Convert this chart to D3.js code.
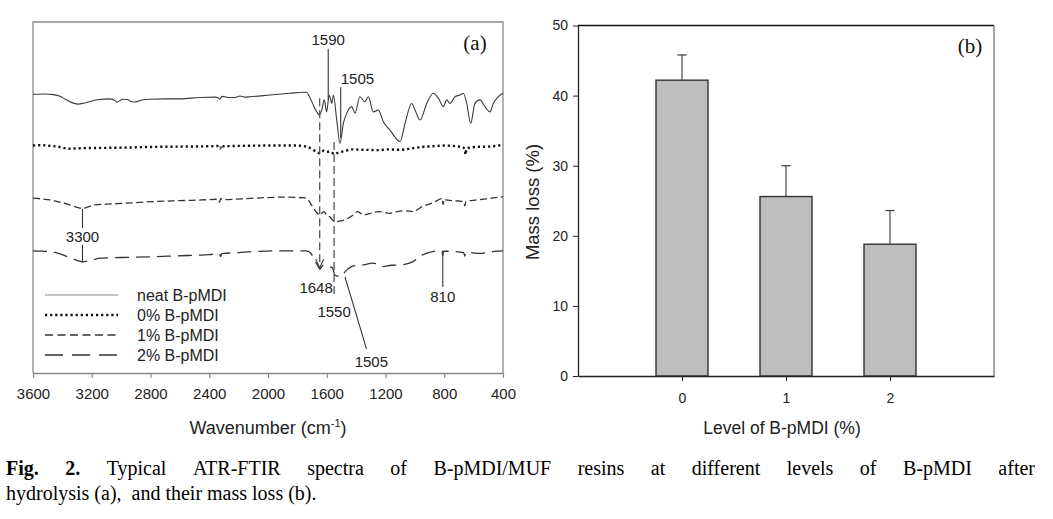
<!DOCTYPE html>
<html><head><meta charset="utf-8">
<script src="https://cdn.jsdelivr.net/npm/d3@7"></script>
<style>body{margin:0;background:#fff;} svg{display:block;}</style>
</head><body>
<svg id="c" width="1053" height="519"></svg>
<script>
// ---------- Panel (a) data ----------
const wavenumberTicks = [3600, 3200, 2800, 2400, 2000, 1600, 1200, 800, 400];
const neatSpectrum = [[3600,79.4],[3520,79.5],[3460,79.3],[3420,78.9],[3380,78.0],[3340,77.1],[3294,76.6],[3250,76.9],[3200,77.5],[3150,77.9],[3076,78.1],[3040,77.6],[3028,77.1],[3010,77.6],[2990,78.0],[2960,77.9],[2925,77.3],[2906,77.2],[2880,77.5],[2858,77.8],[2803,78.0],[2700,78.1],[2599,78.1],[2463,78.5],[2360,78.6],[2340,78.4],[2327,78.0],[2313,78.8],[2260,78.5],[2225,78.5],[2191,78.9],[2157,78.6],[2123,78.7],[1986,79.2],[1850,79.7],[1760,80.0],[1737,80.0],[1715,78.5],[1692,76.4],[1665,74.2],[1651,73.5],[1634,74.9],[1617,77.8],[1601,74.4],[1583,79.2],[1566,76.8],[1555,79.2],[1532,72.1],[1510,65.4],[1487,71.1],[1464,74.0],[1430,75.9],[1408,74.0],[1374,78.7],[1340,77.3],[1317,78.7],[1283,74.4],[1249,74.9],[1215,71.6],[1169,69.2],[1101,65.9],[1067,71.1],[1022,76.8],[999,74.9],[965,72.1],[919,76.8],[875,79.7],[840,78.3],[806,75.9],[783,77.8],[761,76.8],[727,78.7],[693,79.2],[670,79.7],[647,76.8],[620,71.1],[591,76.8],[557,77.8],[523,75.9],[489,74.4],[466,76.8],[432,78.7],[400,79.7]];
const b0Spectrum = [[3600,64.8],[3540,64.9],[3480,64.7],[3420,64.4],[3360,63.9],[3300,64.0],[3200,64.1],[3000,64.2],[2800,64.4],[2600,64.5],[2400,64.6],[2335,64.7],[2325,64.0],[2318,64.9],[2310,64.6],[2200,64.7],[2000,64.8],[1800,64.8],[1740,64.5],[1700,63.8],[1670,63.0],[1648,62.6],[1620,63.3],[1600,63.0],[1575,63.1],[1550,62.4],[1520,62.8],[1480,63.2],[1430,63.7],[1350,63.6],[1250,63.5],[1180,63.7],[1100,63.6],[1020,64.0],[950,64.4],[880,64.6],[800,64.8],[740,64.7],[700,64.5],[670,64.2],[660,63.5],[655,62.2],[650,63.6],[640,64.1],[580,64.4],[500,64.5],[450,64.7],[400,65.0]];
const b1Spectrum = [[3600,49.8],[3540,49.6],[3480,49.3],[3420,48.7],[3350,47.9],[3300,47.2],[3265,46.9],[3220,47.4],[3180,47.9],[3100,48.1],[3000,48.3],[2800,48.8],[2600,49.1],[2450,49.3],[2340,49.5],[2330,48.6],[2322,49.7],[2310,49.4],[2100,49.8],[1900,50.1],[1740,49.9],[1720,49.0],[1700,47.6],[1670,45.8],[1648,45.0],[1620,46.0],[1600,45.0],[1580,44.5],[1545,43.1],[1510,43.3],[1480,43.6],[1420,45.0],[1390,46.0],[1370,45.5],[1355,45.0],[1300,45.5],[1250,46.0],[1170,45.5],[1120,46.0],[1060,46.2],[1010,46.0],[950,47.4],[890,48.3],[830,49.5],[815,49.8],[808,48.0],[800,49.6],[790,49.3],[740,49.1],[700,49.0],[668,48.8],[660,47.6],[652,48.9],[580,49.3],[480,49.8],[400,50.2]];
const b2Spectrum = [[3600,34.8],[3540,34.7],[3480,34.6],[3420,34.0],[3375,33.3],[3320,32.4],[3265,31.7],[3200,32.2],[3140,32.7],[3000,32.9],[2800,33.1],[2600,33.4],[2450,33.6],[2330,33.9],[2322,33.2],[2315,34.0],[2200,34.3],[2100,34.6],[1900,34.8],[1740,34.8],[1710,34.2],[1690,32.8],[1660,30.5],[1648,29.6],[1635,30.2],[1620,30.8],[1580,30.3],[1560,29.9],[1545,27.9],[1505,27.5],[1470,29.1],[1420,30.5],[1350,30.8],[1290,31.3],[1260,31.1],[1220,30.3],[1160,30.7],[1100,30.8],[1020,31.6],[950,33.6],[880,34.6],[815,34.8],[810,33.5],[805,34.7],[720,34.6],[668,34.3],[660,33.3],[652,34.4],[560,34.1],[470,34.6],[400,34.8]];
const seriesNames = ["neat B-pMDI", "0% B-pMDI", "1% B-pMDI", "2% B-pMDI"];

// ---------- Panel (b) data ----------
const levels = [0, 1, 2];
const massLoss = [42.2, 25.6, 18.8];
const massLossErr = [3.6, 4.4, 4.8];
const massTicks = [0, 10, 20, 30, 40, 50];

// ---------- Caption ----------
const captionLine1 = [["Fig.", true], ["2.", true], ["Typical"], ["ATR-FTIR"], ["spectra"], ["of"], ["B-pMDI/MUF"], ["resins"], ["at"], ["different"], ["levels"], ["of"], ["B-pMDI"], ["after"]];
const captionLine2 = "hydrolysis (a),  and their mass loss (b).";

// ---------- Drawing ----------
const svg = d3.select("#c");
const SANS = "'Liberation Sans', Arial, sans-serif";
const SERIF = "'Liberation Serif', 'Times New Roman', serif";

// Panel (a)
const xA = d3.scaleLinear().domain([3600, 400]).range([33, 503]);
const yA = d3.scaleLinear().domain([0, 100]).range([373, 22]);
const gA = svg.append("g");

gA.append("path").attr("d", `M${xA(3600)},${yA(0)}V${yA(100)}H${xA(400)}V${yA(0)}`)
  .attr("fill", "none").attr("stroke", "#8a8a8a").attr("stroke-width", 1.3);

const axA = gA.append("g").attr("transform", `translate(0,${yA(0)})`)
  .call(d3.axisBottom(xA).tickValues(wavenumberTicks).tickSize(5).tickSizeOuter(0).tickFormat(d3.format("d")));
axA.select(".domain").attr("stroke", "#8a8a8a").attr("stroke-width", 1.3);
axA.selectAll(".tick line").attr("stroke", "#8a8a8a").attr("stroke-width", 1.2);
axA.selectAll(".tick text").attr("y", 15).style("font-family", SANS).style("font-size", "15px").attr("fill", "#222");

const xl = gA.append("text").attr("x", 268).attr("y", 434).attr("text-anchor", "middle")
  .style("font-family", SANS).style("font-size", "18px").attr("fill", "#222");
xl.append("tspan").text("Wavenumber (cm");
xl.append("tspan").attr("dy", -7).style("font-size", "11px").text("-1");
xl.append("tspan").attr("dy", 7).text(")");

const line = d3.line().x(d => xA(d[0])).y(d => yA(d[1])).curve(d3.curveMonotoneX);
const styles = [
  {data: neatSpectrum, stroke: "#3a3a3a", w: 1.1, dash: null},
  {data: b0Spectrum, stroke: "#111", w: 2.4, dash: "2.2,2.9"},
  {data: b1Spectrum, stroke: "#333", w: 1.3, dash: "7,3.5"},
  {data: b2Spectrum, stroke: "#333", w: 1.3, dash: "14,7"}
];
styles.forEach(s => {
  gA.append("path").attr("d", line(s.data)).attr("fill", "none")
    .attr("stroke", s.stroke).attr("stroke-width", s.w)
    .attr("stroke-dasharray", s.dash);
});

// annotations
function seg(w1, v1, w2, v2, dash) {
  gA.append("line").attr("x1", xA(w1)).attr("y1", yA(v1)).attr("x2", xA(w2)).attr("y2", yA(v2))
    .attr("stroke", dash ? "#555" : "#333").attr("stroke-width", dash ? 1.3 : 1.1)
    .attr("stroke-dasharray", dash ? "8,4" : null);
}
function label(txt, w, v, anchor) {
  gA.append("text").attr("x", xA(w)).attr("y", yA(v)).attr("text-anchor", anchor || "middle")
    .style("font-family", SANS).style("font-size", "15px").attr("fill", "#222").text(txt);
}
seg(1590, 92.3, 1590, 77.8); label("1590", 1590, 93.4);
seg(1505, 81.4, 1505, 67.0); label("1505", 1505, 82.3, "start");
label("1505", 1410, 1.6, "start");
seg(1648, 78.3, 1648, 29.9, true);
seg(1550, 65.8, 1550, 21.7, true);
gA.append("path").attr("d", `M${xA(1648)-4},${yA(29.9)-9}L${xA(1648)},${yA(29.9)}L${xA(1648)+4},${yA(29.9)-9}`)
  .attr("fill", "none").attr("stroke", "#444").attr("stroke-width", 1.1);
label("1648", 1559, 22.8, "end");
label("1550", 1550, 16.0, "middle");
seg(1476, 27.4, 1329, 6.8);
label("810", 810, 20.2); seg(810, 34.5, 810, 24.5);
label("3300", 3263, 37.3); seg(3263, 46.7, 3263, 41.3); seg(3263, 36.5, 3263, 31.6);

gA.append("text").attr("x", 475).attr("y", 50).attr("text-anchor", "middle")
  .style("font-family", SERIF).style("font-size", "21px").attr("fill", "#111").text("(a)");

// legend
const legRows = [295, 315, 335, 355];
const legStyles = [
  {stroke: "#8a8a8a", w: 1.1, dash: null},
  {stroke: "#111", w: 2.4, dash: "2.2,2.9"},
  {stroke: "#333", w: 1.3, dash: "8,4.5"},
  {stroke: "#333", w: 1.3, dash: "18,9"}
];
seriesNames.forEach((n, i) => {
  gA.append("line").attr("x1", 45).attr("x2", 118).attr("y1", legRows[i]).attr("y2", legRows[i])
    .attr("stroke", legStyles[i].stroke).attr("stroke-width", legStyles[i].w).attr("stroke-dasharray", legStyles[i].dash);
  gA.append("text").attr("x", 137).attr("y", legRows[i] + 6)
    .style("font-family", SANS).style("font-size", "16px").attr("fill", "#222").text(n);
});

// Panel (b)
const xB = d3.scaleLinear().domain([-1, 3]).range([578, 994]);
const yB = d3.scaleLinear().domain([0, 50]).range([376, 25.5]);
const gB = svg.append("g");
const barHalf = 0.25;

gB.append("line").attr("x1", xB(-1)).attr("x2", xB(3)).attr("y1", yB(50)).attr("y2", yB(50)).attr("stroke", "#111").attr("stroke-width", 1.3);
gB.append("line").attr("x1", xB(3)).attr("x2", xB(3)).attr("y1", yB(50)).attr("y2", yB(0)).attr("stroke", "#777").attr("stroke-width", 1.3);

levels.forEach((l, i) => {
  gB.append("line").attr("x1", xB(l)).attr("x2", xB(l)).attr("y1", yB(massLoss[i])).attr("y2", yB(massLoss[i] + massLossErr[i]))
    .attr("stroke", "#555").attr("stroke-width", 1.3);
  gB.append("line").attr("x1", xB(l) - 4.5).attr("x2", xB(l) + 4.5)
    .attr("y1", yB(massLoss[i] + massLossErr[i])).attr("y2", yB(massLoss[i] + massLossErr[i]))
    .attr("stroke", "#444").attr("stroke-width", 1.3);
  gB.append("rect").attr("x", xB(l - barHalf)).attr("width", xB(l + barHalf) - xB(l - barHalf))
    .attr("y", yB(massLoss[i])).attr("height", yB(0) - yB(massLoss[i]))
    .attr("fill", "#bdbdbd").attr("stroke", "#333").attr("stroke-width", 1.4);
});

const ayB = gB.append("g").attr("transform", `translate(${xB(-1)},0)`)
  .call(d3.axisLeft(yB).tickValues(massTicks).tickSize(5).tickSizeOuter(0));
ayB.select(".domain").attr("stroke", "#222").attr("stroke-width", 1.3);
ayB.selectAll(".tick line").attr("stroke", "#222");
ayB.selectAll(".tick text").attr("x", -10).style("font-family", SANS).style("font-size", "14px").attr("fill", "#222");

const axB = gB.append("g").attr("transform", `translate(0,${yB(0)})`)
  .call(d3.axisBottom(xB).tickValues(levels).tickSize(5).tickSizeOuter(0).tickFormat(d3.format("d")));
axB.select(".domain").attr("stroke", "#222").attr("stroke-width", 1.3);
axB.selectAll(".tick line").attr("stroke", "#222");
axB.selectAll(".tick text").attr("y", 17).style("font-family", SANS).style("font-size", "14px").attr("fill", "#222");

gB.append("text").attr("transform", "translate(539,202) rotate(-90)").attr("text-anchor", "middle")
  .style("font-family", SANS).style("font-size", "18.5px").attr("fill", "#222").text("Mass loss (%)");
gB.append("text").attr("x", 782).attr("y", 434).attr("text-anchor", "middle")
  .style("font-family", SANS).style("font-size", "17.5px").attr("fill", "#222").text("Level of B-pMDI (%)");
gB.append("text").attr("x", 970).attr("y", 53).attr("text-anchor", "middle")
  .style("font-family", SERIF).style("font-size", "21px").attr("fill", "#111").text("(b)");

// Caption: line 1 justified word by word
const capSize = "20px";
const capLeft = 6, capRight = 1035;
const capWords = captionLine1.map(([w, bold]) => {
  const t = svg.append("text").attr("y", 475)
    .style("font-family", SERIF).style("font-size", capSize).attr("fill", "#000")
    .attr("font-weight", bold ? "bold" : null).text(w);
  return {t, len: t.node().getComputedTextLength()};
});
const totalLen = d3.sum(capWords, d => d.len);
const gap = (capRight - capLeft - totalLen) / (capWords.length - 1);
let cx = capLeft;
capWords.forEach(d => { d.t.attr("x", cx); cx += d.len + gap; });
svg.append("text").attr("x", capLeft).attr("y", 500)
  .style("font-family", SERIF).style("font-size", capSize).attr("fill", "#000")
  .style("white-space", "pre").text(captionLine2);
</script>
</body></html>
